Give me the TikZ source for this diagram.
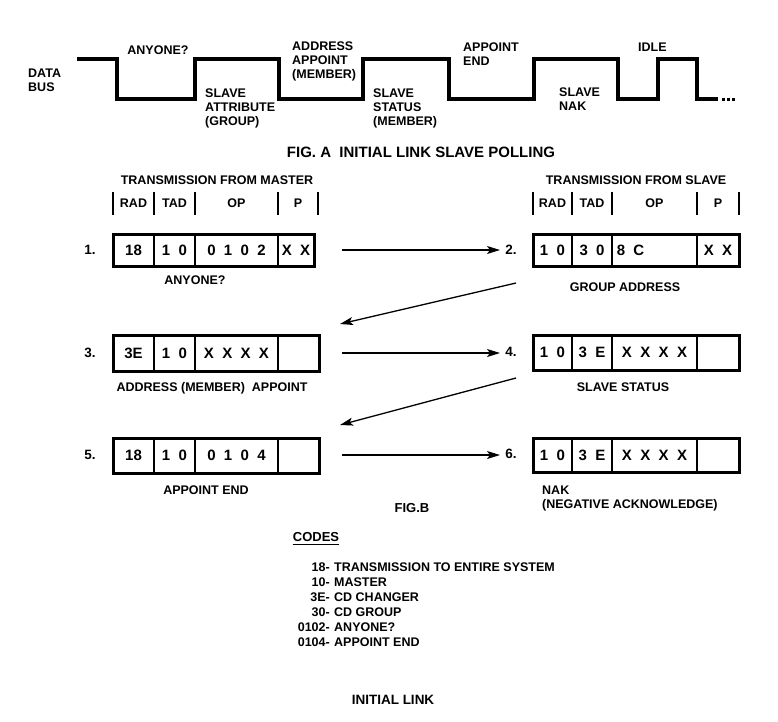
\documentclass[tikz,border=0pt]{standalone}
\usepackage{fontspec}
\setmainfont{Liberation Sans}
\newfontfamily\boxfont[WordSpace=2]{Liberation Sans}
\usetikzlibrary{arrows.meta,fit}

\tikzset{
  lbl/.style={font=\fontsize{12.5}{14}\selectfont\bfseries, inner sep=0pt, align=left},
  clbl/.style={font=\fontsize{12.5}{14}\selectfont\bfseries, inner sep=0pt, text height=9pt, text depth=0pt},
  num/.style={font=\fontsize{13.5}{14}\selectfont\bfseries, inner sep=0pt, text height=9.7pt, text depth=0pt},
  cell/.style={draw, line width=1.8pt, inner sep=0pt, outer sep=0pt,
    font=\boxfont\fontsize{15}{15}\selectfont\bfseries},
  frame/.style={draw, line width=3pt, inner sep=0pt, outer sep=0pt},
  hbar/.style={line width=2.4pt},
  wave/.style={line width=3.2pt, line join=miter},
  arr/.style={line width=1.3pt, -{Stealth[length=13pt,width=8pt,inset=3pt]}},
}

\newcommand\cellnode[6]{%
  \node[cell, minimum width={(#3-#2)*1pt}, minimum height={(#5-#4)*1pt}]
    (#1) at ({(#2+#3)/2},{(#4+#5)/2}) {#6};}

\begin{document}
\begin{tikzpicture}[x=1pt,y=-1pt]
\useasboundingbox (0,0) rectangle (778,721);
\fill[white] (0,0) rectangle (778,721);

% ---------- Fig. A waveform ----------
\draw[wave] (77,59) -- (117,59) -- (117,99) -- (195,99) -- (195,59) -- (279,59)
  -- (279,99) -- (363,99) -- (363,59) -- (449,59) -- (449,99) -- (534,99)
  -- (534,59) -- (618,59) -- (618,99) -- (658,99) -- (658,59) -- (697,59)
  -- (697,99) -- (718,99);
\foreach \x in {722,727,732} \fill (\x,97.6) rectangle ++(3,3);

\node[lbl, anchor=north west] (databus) at (28,68.5) {DATA\\BUS};
\node[clbl] (anyoneA) at (158,50) {ANYONE?};
\node[lbl, anchor=north west] (slaveattr) at (205,88.5) {SLAVE\\ATTRIBUTE\\(GROUP)};
\node[lbl, anchor=north west] (addrapp) at (292,41.5) {ADDRESS\\APPOINT\\(MEMBER)};
\node[lbl, anchor=north west] (slavestat) at (373,88.5) {SLAVE\\STATUS\\(MEMBER)};
\node[lbl, anchor=north west] (appendA) at (463,42.5) {APPOINT\\END};
\node[lbl, anchor=north west] (slavenak) at (559,87.5) {SLAVE\\NAK};
\node[clbl, anchor=west] (idle) at (638,47) {IDLE};

\node[font=\fontsize{15}{15}\selectfont\bfseries, inner sep=0pt, text height=10.7pt, text depth=0pt]
  (figa) at (421,152) {FIG. A\ \ INITIAL LINK SLAVE POLLING};

% ---------- headers ----------
\node[clbl] (thm) at (217,180) {TRANSMISSION FROM MASTER};
\node[clbl] (ths) at (636,180) {TRANSMISSION FROM SLAVE};
\foreach \x in {113,154,195,278,318} \draw[hbar] (\x,192) -- (\x,215);
\foreach \x in {533,572,612,697,739} \draw[hbar] (\x,192) -- (\x,215);
\node[clbl] (hmrad) at (133.5,203) {RAD};
\node[clbl] (hmtad) at (174.5,203) {TAD};
\node[clbl] (hmop)  at (236.5,203) {OP};
\node[clbl] (hmp)   at (298,203) {P};
\node[clbl] (hsrad) at (552.5,203) {RAD};
\node[clbl] (hstad) at (592,203) {TAD};
\node[clbl] (hsop)  at (654.5,203) {OP};
\node[clbl] (hsp)   at (718,203) {P};

% ---------- boxes ----------
% 1
\cellnode{b1a}{113}{154}{234}{266}{18}
\cellnode{b1b}{154}{195}{234}{266}{1 0}
\cellnode{b1c}{195}{278}{234}{266}{0 1 0 2}
\cellnode{b1d}{278}{314}{234}{266}{X X}
\node[frame, fit=(b1a)(b1d)] (box1) {};
% 2
\cellnode{b2a}{533}{572}{234}{266}{1 0}
\cellnode{b2b}{572}{612}{234}{266}{3 0}
\cellnode{b2c}{612}{697}{234}{266}{8 C\kern48pt}
\cellnode{b2d}{697}{739}{234}{266}{X X}
\node[frame, fit=(b2a)(b2d)] (box2) {};
% 3
\cellnode{b3a}{113}{154}{335}{371}{3E}
\cellnode{b3b}{154}{195}{335}{371}{1 0}
\cellnode{b3c}{195}{278}{335}{371}{X X X X}
\cellnode{b3d}{278}{319}{335}{371}{}
\node[frame, fit=(b3a)(b3d)] (box3) {};
% 4
\cellnode{b4a}{533}{572}{335}{370}{1 0}
\cellnode{b4b}{572}{612}{335}{370}{3 E}
\cellnode{b4c}{612}{697}{335}{370}{X X X X}
\cellnode{b4d}{697}{739}{335}{370}{}
\node[frame, fit=(b4a)(b4d)] (box4) {};
% 5
\cellnode{b5a}{113}{154}{438}{473}{18}
\cellnode{b5b}{154}{195}{438}{473}{1 0}
\cellnode{b5c}{195}{278}{438}{473}{0 1 0 4}
\cellnode{b5d}{278}{319}{438}{473}{}
\node[frame, fit=(b5a)(b5d)] (box5) {};
% 6
\cellnode{b6a}{533}{572}{438}{472}{1 0}
\cellnode{b6b}{572}{612}{438}{472}{3 E}
\cellnode{b6c}{612}{697}{438}{472}{X X X X}
\cellnode{b6d}{697}{739}{438}{472}{}
\node[frame, fit=(b6a)(b6d)] (box6) {};

% numbers
\node[num] (n1) at (90,250) {1.};
\node[num] (n2) at (511,250) {2.};
\node[num] (n3) at (90,353) {3.};
\node[num] (n4) at (511,352) {4.};
\node[num] (n5) at (90,455) {5.};
\node[num] (n6) at (511,454) {6.};

% labels under boxes
\node[clbl] (l1) at (195,280) {ANYONE?};
\node[clbl] (l2) at (625,287) {GROUP ADDRESS};
\node[clbl] (l3) at (212,387) {ADDRESS (MEMBER)\ \ APPOINT};
\node[clbl] (l4) at (623,387) {SLAVE STATUS};
\node[clbl] (l5) at (206,490) {APPOINT END};
\node[lbl, anchor=north west] (l6) at (542,485.5) {NAK\\(NEGATIVE ACKNOWLEDGE)};

% arrows
\coordinate (a1s) at (342,250); \coordinate (a1e) at (500,250);
\coordinate (a2s) at (516,283); \coordinate (a2e) at (340,324);
\coordinate (a3s) at (342,353); \coordinate (a3e) at (500,353);
\coordinate (a4s) at (516,378); \coordinate (a4e) at (340,425);
\coordinate (a5s) at (342,455); \coordinate (a5e) at (500,455);
\draw[arr] (a1s) -- (a1e);
\draw[arr] (a2s) -- (a2e);
\draw[arr] (a3s) -- (a3e);
\draw[arr] (a4s) -- (a4e);
\draw[arr] (a5s) -- (a5e);

\node[font=\fontsize{13}{14}\selectfont\bfseries, inner sep=0pt, text height=9.3pt, text depth=0pt]
  (figb) at (412,508) {FIG.B};

% codes
\node[font=\fontsize{13}{14}\selectfont\bfseries, inner sep=0pt, text height=9.3pt, text depth=0pt]
  (codes) at (316,537) {CODES};
\draw[line width=0.9pt] ([yshift=-3pt]codes.south west) -- ([yshift=-3pt]codes.south east);
\foreach \c/\d [count=\i from 0] in {18-/TRANSMISSION TO ENTIRE SYSTEM, 10-/MASTER,
    3E-/CD CHANGER, 30-/CD GROUP, 0102-/ANYONE?, 0104-/APPOINT END} {
  \node[clbl, anchor=east] (c\i) at (330,567+15*\i) {\c};
  \node[clbl, anchor=west] (d\i) at (334,567+15*\i) {\d};
}

\node[font=\fontsize{13.5}{14}\selectfont\bfseries, inner sep=0pt, text height=9.7pt, text depth=0pt]
  (initlink) at (393,700) {INITIAL LINK};
\end{tikzpicture}
\end{document}
